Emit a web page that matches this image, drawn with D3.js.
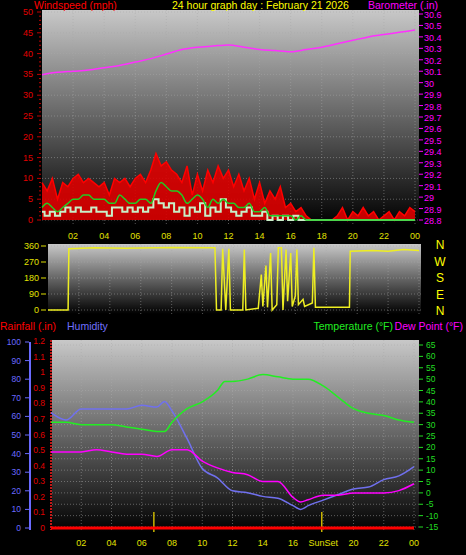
<!DOCTYPE html><html><head><meta charset="utf-8">
<script src="https://cdn.jsdelivr.net/npm/d3@7"></script>
<style>body{margin:0;background:#000}svg{display:block}</style></head><body>
<svg id="c" width="466" height="555"></svg>
<script>
const hourTicks=["02","04","06","08","10","12","14","16","18","20","22","00"];
const windTicks=[0,5,10,15,20,25,30,35,40,45,50];
const baroTicks=[28.8,28.9,29,29.1,29.2,29.3,29.4,29.5,29.6,29.7,29.8,29.9,30,30.1,30.2,30.3,30.4,30.5,30.6];
// 20-minute samples
const gust=[9,7,10,5,9,8,10,11,9,10,9,8,9,6,10,9,10,8,10,11,9,12,16,13,14,12,11,9,13,6,11,7,12,9,13,10,12,8,11,7,10,5,9,4,7,5,8,3,4,2,3,1,0,0,0,0,0,1,3,0,2,1,3,1,2,0,1,2,0,2,1,3,2];
const avgWind=[3,4,3,2,3,4,5,5,6,6,5,5,5,4,4,6,5,4,4,5,5,4,7,9,8,7,7,6,4,5,6,5,3,5,4,5,4,4,3,3,4,2,2,3,1,1,1,1,1,0,1,0,0,0,0,0,0,0,0,0,0,0,0,0,0,0,0,0,0,0,0,0,0];
const speed=[2,1,2,1,2,3,2,3,2,2,3,2,2,1,3,3,2,3,2,3,2,3,5,4,3,4,2,3,1,3,2,4,1,3,2,5,3,2,1,2,3,1,1,2,0,1,0,1,0,1,0,0,0,0,0,0,0,0,0,0,0,0,0,0,0,0,0,0,0,0,0,0,0];
const baro=[30.07,30.09,30.10,30.11,30.13,30.15,30.18,30.21,30.25,30.29,30.31,30.32,30.33,30.31,30.29,30.28,30.27,30.29,30.31,30.34,30.37,30.40,30.42,30.44,30.46];
const dirTicks=[0,90,180,270,360];
const compass=["N","W","S","E","N"];
const dir=[[0,0],[1.3,0],[1.35,345],[3,350],[5,348],[8,352],[10.8,350],[10.9,0],[11.2,0],[11.3,345],[11.5,0],[11.7,345],[11.8,0],[12.6,0],[12.7,340],[12.8,0],[13.6,10],[13.8,200],[13.9,20],[14.1,250],[14.2,15],[14.4,320],[14.5,0],[14.8,30],[14.9,350],[15.1,350],[15.2,0],[15.4,340],[15.5,50],[15.7,320],[15.8,20],[16.0,80],[16.1,340],[16.2,30],[16.5,60],[16.6,20],[17.1,40],[17.2,350],[17.3,15],[19.5,15],[19.55,330],[21,335],[22,330],[23,340],[24,335]];
const humTicks=[0,10,20,30,40,50,60,70,80,90,100];
const rainTicks=[0,0.1,0.2,0.3,0.4,0.5,0.6,0.7,0.8,0.9,1,1.1,1.2];
const tempTicks=[-15,-10,-5,0,5,10,15,20,25,30,35,40,45,50,55,60,65];
const hum=[[0,62],[1,58],[2,64],[3,64],[4,64],[5,64],[6,66],[7,65],[7.5,68],[8,63],[9,48],[10,32],[11,27],[12,20],[13,19],[14,17],[15,16],[16,12],[16.5,10],[17,12],[18,15],[19,18],[20,21],[21,22],[22,26],[23,28],[24,33]];
const temp=[[0,31],[1,31],[2,30],[3,30],[4,30],[5,29],[6,28],[7,27],[7.5,27],[8,31],[9,37],[10,40],[11,45],[11.5,49],[12,49],[13,50],[14,52],[15,51],[16,50],[17,50],[18,47],[19,42],[20,37],[21,35],[22,34],[23,32],[24,31]];
const dew=[[0,18],[1,18],[2,18],[3,19],[4,18],[5,17],[6,17],[7,16],[8,19],[9,19],[10,14],[11,11],[12,9],[13,8],[14,5],[15,5],[16,-2],[16.5,-4],[17,-3],[18,-1],[19,-1],[20,0],[21,0],[22,0],[23,1],[24,4]];
const rain=[[0,0],[24,0]];
const sunEvents=[6.8,17.9];

const svg=d3.select("#c");
const F="Liberation Sans, Arial, sans-serif";
const defs=svg.append("defs");
const g=defs.append("linearGradient").attr("id","bg").attr("x1",0).attr("y1",0).attr("x2",0).attr("y2",1);
g.append("stop").attr("offset",0).attr("stop-color","#c8c8c8");
g.append("stop").attr("offset",1).attr("stop-color","#000");

function panel(x0,x1,y0,y1,xs){
  svg.append("rect").attr("x",x0).attr("y",y0).attr("width",x1-x0).attr("height",y1-y0).attr("fill","url(#bg)");
  const gr=svg.append("g").attr("stroke","#aaa").attr("stroke-opacity",0.5).attr("stroke-dasharray","1,2");
  for(let h=2;h<=24;h+=2) gr.append("line").attr("x1",xs(h)).attr("x2",xs(h)).attr("y1",y0).attr("y2",y1);
  return gr;
}
function txt(x,y,s,c,anchor,size){svg.append("text").attr("x",x).attr("y",y).attr("fill",c).attr("font-family",F).attr("font-size",size||9).attr("text-anchor",anchor||"start").text(s);}

// ---------- Top ----------
const x1=d3.scaleLinear().domain([0,24]).range([42,415]);
const yW=d3.scaleLinear().domain([0,50]).range([220,12]);
const yB=d3.scaleLinear().domain([28.8,30.6]).range([220,14]);
let gr=panel(42,419,10,225,x1);
windTicks.forEach(v=>gr.append("line").attr("x1",42).attr("x2",419).attr("y1",yW(v)).attr("y2",yW(v)));
windTicks.forEach(v=>{txt(33,yW(v)+3,v,"#e00000","end");});
d3.range(0,51).forEach(v=>svg.append("line").attr("x1",v%5?39:37).attr("x2",41).attr("y1",yW(v)).attr("y2",yW(v)).attr("stroke","#c00000"));
baroTicks.forEach(v=>{txt(424,yB(v)+4,+v.toFixed(1),"#ff00ff","start");svg.append("line").attr("x1",419).attr("x2",423).attr("y1",yB(v)).attr("y2",yB(v)).attr("stroke","#ff00ff");});
hourTicks.forEach((t,i)=>txt(x1(2+2*i),239,t,"#e0e000","middle"));
const t20=i=>i/3;
svg.append("path").datum(gust).attr("d",d3.area().x((d,i)=>x1(t20(i))).y0(yW(0)).y1(d=>yW(d))).attr("fill","#dd0000").attr("opacity",0.9);
svg.append("path").datum(gust).attr("d",d3.line().x((d,i)=>x1(t20(i))).y(d=>yW(d))).attr("fill","none").attr("stroke","#ff0000").attr("stroke-width",1.5);
svg.append("path").datum(speed).attr("d",d3.line().x((d,i)=>x1(t20(i))).y(d=>yW(d)).curve(d3.curveStep)).attr("fill","none").attr("stroke","#c8f0c8").attr("stroke-width",2);
svg.append("path").datum(avgWind).attr("d",d3.line().x((d,i)=>x1(t20(i))).y(d=>yW(d)).curve(d3.curveMonotoneX)).attr("fill","none").attr("stroke","#22cc22").attr("stroke-width",1.5);
svg.append("path").datum(baro).attr("d",d3.line().x((d,i)=>x1(i)).y(d=>yB(d)).curve(d3.curveMonotoneX)).attr("fill","none").attr("stroke","#ff30ff").attr("stroke-width",1.5);
txt(34,9,"Windspeed (mph)","#ff0000","start",10.5);
txt(172,9,"24 hour graph day : February 21 2026","#ffff00","start",10.5);
txt(438,9,"Barometer (.in)","#ff00ff","end",10.5);

// ---------- Middle ----------
const x2=d3.scaleLinear().domain([0,24]).range([48,419]);
const yD=d3.scaleLinear().domain([0,360]).range([310,246]);
gr=panel(48,421,244,314,x2);
dirTicks.forEach(v=>{gr.append("line").attr("x1",48).attr("x2",421).attr("y1",yD(v)).attr("y2",yD(v));txt(39,yD(v)+3,v,"#e0e000","end");svg.append("line").attr("x1",41).attr("x2",46).attr("y1",yD(v)).attr("y2",yD(v)).attr("stroke","#e0e000");});
compass.forEach((c,i)=>txt(440,249+i*16.5,c,"#ffff00","middle",12));
svg.append("path").datum(dir).attr("d",d3.line().x(d=>x2(d[0])).y(d=>yD(d[1]))).attr("fill","none").attr("stroke","#eeee22").attr("stroke-width",1.5);

// ---------- Bottom ----------
const x3=d3.scaleLinear().domain([0,24]).range([51,414]);
const yH=d3.scaleLinear().domain([0,100]).range([528,342]);
const yR=d3.scaleLinear().domain([0,1.2]).range([528,341]);
const yT=d3.scaleLinear().domain([-15,65]).range([527,345]);
gr=panel(52,419,340,532,x3);
tempTicks.forEach(v=>gr.append("line").attr("x1",52).attr("x2",419).attr("y1",yT(v)).attr("y2",yT(v)));
humTicks.forEach(v=>{txt(21,yH(v)+3,v,"#6a6aff","end",8.5);svg.append("line").attr("x1",25).attr("x2",29).attr("y1",yH(v)).attr("y2",yH(v)).attr("stroke","#6a6aff");});
svg.append("line").attr("x1",30).attr("x2",30).attr("y1",342).attr("y2",530).attr("stroke","#6a6aff").attr("stroke-width",2);
rainTicks.forEach(v=>{txt(45,yR(v)+3,+v.toFixed(1),"#e00000","end",8.5);});
svg.append("line").attr("x1",51).attr("x2",51).attr("y1",340).attr("y2",530).attr("stroke","#ff2020").attr("stroke-width",1.5).attr("stroke-dasharray","2,1");
tempTicks.forEach(v=>{txt(426,yT(v)+3,v,"#22dd22","start",8.5);svg.append("line").attr("x1",419).attr("x2",423).attr("y1",yT(v)).attr("y2",yT(v)).attr("stroke","#22dd22");});
hourTicks.forEach((t,i)=>{const h=2+2*i; txt(x3(h),546,h===18?"SunSet":t,"#e0e000","middle");});
sunEvents.forEach(h=>svg.append("line").attr("x1",x3(h)).attr("x2",x3(h)).attr("y1",512).attr("y2",532).attr("stroke","#c8b400").attr("stroke-width",1.5));
const ln=(data,y,c)=>svg.append("path").datum(data).attr("d",d3.line().x(d=>x3(d[0])).y(d=>y(d[1])).curve(d3.curveMonotoneX)).attr("fill","none").attr("stroke",c).attr("stroke-width",1.5);
ln(hum,yH,"#7070ee");ln(dew,yT,"#ff00ff");ln(temp,yT,"#22ee22");
svg.append("path").datum(rain).attr("d",d3.line().x(d=>x3(d[0])).y(d=>yR(d[1]))).attr("stroke","#ff0000").attr("stroke-width",3);
txt(0,330,"Rainfall (.in)","#ff0000","start",10.5);
txt(67,330,"Humidity","#7070ff","start",10.5);
txt(393,330,"Temperature (°F)","#22ee22","end",10.5);
txt(463,330,"Dew Point (°F)","#ff00ff","end",10.5);
</script></body></html>
